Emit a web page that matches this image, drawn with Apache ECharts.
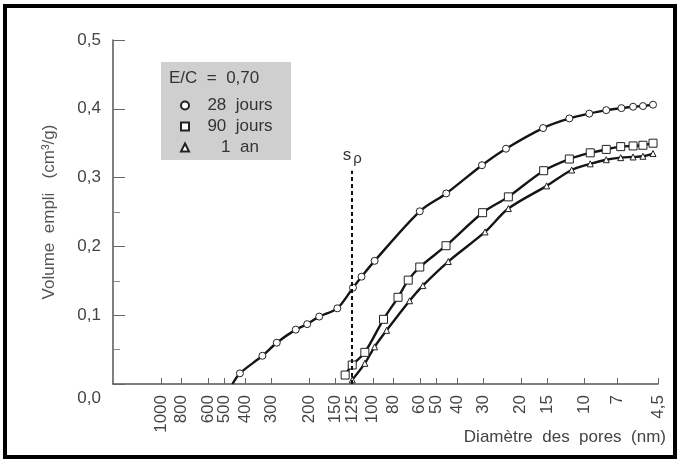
<!DOCTYPE html>
<html><head><meta charset="utf-8">
<script src="https://cdn.jsdelivr.net/npm/echarts@6/dist/echarts.min.js"></script>
<style>html,body{margin:0;padding:0;background:#fff}#c{width:681px;height:466px}</style>
</head><body><div id="c"></div>
<script>
// Tick labels (pore diameter, nm) and y ticks
const xTicks = [1000, 800, 600, 500, 400, 300, 200, 150, 125, 100, 80, 60, 50, 40, 30, 20, 15, 10, 7, 4.5];
const yMinorTicks = [0.05, 0.15, 0.25];

// 28 jours
const diam28 = [460, 424, 332, 284, 231, 204, 179, 147, 124, 113, 98, 60, 45, 30.5, 23.5, 15.7, 11.8, 9.5, 7.9, 6.7, 5.9, 5.3, 4.75];
const vol28  = [0, 0.0155, 0.041, 0.060, 0.079, 0.087, 0.098, 0.110, 0.140, 0.156, 0.179, 0.251, 0.277, 0.318, 0.342, 0.372, 0.386, 0.393, 0.398, 0.401, 0.403, 0.404, 0.406];
// 90 jours
const diam90 = [135, 125, 109, 89, 76, 68, 60, 45.1, 30.3, 22.9, 15.6, 11.8, 9.4, 7.9, 6.75, 5.9, 5.3, 4.75];
const vol90  = [0.013, 0.0276, 0.046, 0.094, 0.126, 0.151, 0.170, 0.201, 0.249, 0.272, 0.310, 0.327, 0.336, 0.341, 0.345, 0.346, 0.347, 0.350];
// 1 an
const diam1an = [125, 109, 98, 86, 67, 58, 44, 29.5, 22.9, 15.1, 11.5, 9.4, 7.9, 6.75, 5.9, 5.3, 4.75];
const vol1an  = [0.006, 0.030, 0.054, 0.078, 0.121, 0.143, 0.178, 0.221, 0.255, 0.288, 0.311, 0.320, 0.326, 0.329, 0.330, 0.331, 0.335];

const spDiam = 125, spTop = 0.31;

const FONT = 'Liberation Sans, Arial, Helvetica, sans-serif';
const pairs = (d, v) => d.map((x, i) => [x, v[i]]);
const d28 = pairs(diam28, vol28).map((p, i) => i === 0 ? { value: p, symbol: 'none' } : p);

const chart = echarts.init(document.getElementById('c'), null, { renderer: 'canvas' });
const lineStyle = { color: '#151515', width: 2.4 };
const mk = { color: '#fff', borderColor: '#222', borderWidth: 1 };

chart.setOption({
  animation: false,
  backgroundColor: '#fff',
  grid: { left: 113, right: 23, top: 40, bottom: 82, containLabel: false },
  xAxis: {
    type: 'log', logBase: 10, inverse: true, min: 4.5, max: 1685,
    axisLine: { show: true, lineStyle: { color: '#555', width: 1.5 } },
    axisTick: { show: true, inside: true, length: 6, customValues: xTicks, lineStyle: { color: '#666' } },
    axisLabel: {
      customValues: xTicks, rotate: 90, margin: 11, fontSize: 17, fontFamily: FONT, color: '#444',
      formatter: v => String(v).replace('.', ',')
    },
    splitLine: { show: false }, minorTick: { show: false }
  },
  yAxis: [{
    type: 'value', min: 0, max: 0.5, interval: 0.1,
    name: 'Volume  empli   (cm³/g)', nameLocation: 'middle', nameGap: 55,
    nameTextStyle: { fontSize: 17, fontFamily: FONT, color: '#555' },
    axisLine: { show: true, lineStyle: { color: '#555', width: 1.5 } },
    axisTick: { show: true, inside: true, length: 12, lineStyle: { color: '#666' } },
    axisLabel: {
      margin: 12, fontSize: 17, fontFamily: FONT, color: '#444',
      formatter: v => v === 0 ? '{z|0,0}' : v.toFixed(1).replace('.', ','),
      rich: { z: { fontSize: 17, fontFamily: FONT, color: '#444', padding: [28, 0, 0, 0] } }
    },
    splitLine: { show: false }
  }, {
    type: 'value', min: 0, max: 0.5, position: 'left',
    axisLine: { show: false }, axisLabel: { show: false }, splitLine: { show: false },
    axisTick: { show: true, inside: true, length: 7, customValues: yMinorTicks, lineStyle: { color: '#888' } }
  }],
  legend: {
    orient: 'vertical', left: 175, top: 92, itemWidth: 8, itemHeight: 8, itemGap: 4,
    formatter: n => '{a|' + n.replace(' ', '  ') + '}',
    textStyle: {
      fontSize: 17, fontFamily: FONT, color: '#333',
      rich: { a: { fontSize: 17, fontFamily: FONT, color: '#333', width: 92, align: 'center' } }
    },
    data: [{ name: '28 jours', icon: 'circle' }, { name: '90 jours', icon: 'rect' }, { name: '1 an', icon: 'triangle' }]
  },
  graphic: [
    { type: 'rect', shape: { x: 5, y: 6, width: 670, height: 451 }, style: { fill: 'none', stroke: '#000', lineWidth: 4 }, z: 100 },
    { type: 'rect', shape: { x: 161, y: 62, width: 130, height: 98 }, style: { fill: '#cfcfcf' }, z: 0 },
    { type: 'text', left: 169, top: 70, style: { text: 'E/C  =  0,70', font: '17px ' + FONT, fill: '#333' }, z: 10 },
    { type: 'text', right: 15, top: 429, style: { text: 'Diamètre  des  pores  (nm)', font: '17px ' + FONT, fill: '#444' }, z: 10 }
  ],
  series: [{
    name: '28 jours', type: 'line', smooth: 0.3, data: d28, symbol: 'circle', symbolSize: 7,
    lineStyle, itemStyle: mk, z: 3,
    markLine: {
      silent: true, symbol: 'none', animation: false,
      lineStyle: { type: [4, 3], color: '#111', width: 2 },
      label: {
        show: true, position: 'end', distance: 4, formatter: '{s|s}{p|ρ}',
        rich: { s: { fontSize: 17, fontFamily: FONT, color: '#333' }, p: { fontSize: 15, fontFamily: FONT, color: '#333', padding: [8, 0, 0, 2] } }
      },
      data: [[{ coord: [spDiam, 0] }, { coord: [spDiam, spTop] }]]
    }
  }, {
    name: '90 jours', type: 'line', smooth: 0.3, data: pairs(diam90, vol90), symbol: 'rect', symbolSize: 8,
    lineStyle, itemStyle: mk, z: 3
  }, {
    name: '1 an', type: 'line', smooth: 0.3, data: pairs(diam1an, vol1an), symbol: 'triangle', symbolSize: 6,
    lineStyle, itemStyle: mk, z: 3
  }]
});
</script>
</body></html>
